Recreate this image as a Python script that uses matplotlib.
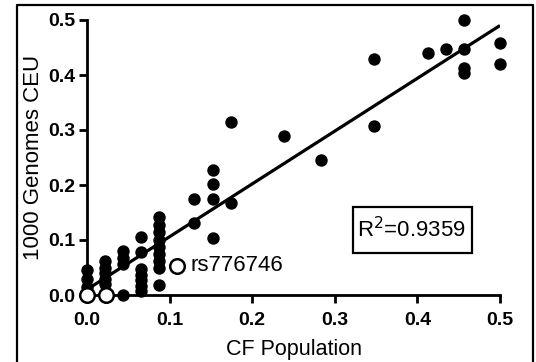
import matplotlib
matplotlib.use("Agg")
import matplotlib.pyplot as plt
from matplotlib.lines import Line2D
from matplotlib.patches import Rectangle
import numpy as np

plt.rcParams['font.family'] = ['Liberation Sans', 'DejaVu Sans']

# Filled points: CF Population (x) vs 1000 Genomes CEU (y)
cf_pop = [0.0, 0.0, 0.0,
          0.0217, 0.0217, 0.0217, 0.0217, 0.0217,
          0.0435, 0.0435, 0.0435, 0.0435,
          0.0652, 0.0652, 0.0652, 0.0652, 0.0652, 0.0652, 0.0652,
          0.087, 0.087, 0.087, 0.087, 0.087, 0.087, 0.087, 0.087, 0.087,
          0.130, 0.130,
          0.152, 0.152, 0.152, 0.152,
          0.174, 0.174,
          0.239, 0.283,
          0.348, 0.348,
          0.413, 0.435,
          0.457, 0.457, 0.457, 0.457,
          0.5, 0.5]
ceu = [0.045, 0.03, 0.015,
       0.062, 0.05, 0.04, 0.03, 0.02,
       0.08, 0.068, 0.056, 0.0,
       0.106, 0.078, 0.048, 0.037, 0.027, 0.017, 0.007,
       0.142, 0.128, 0.115, 0.1, 0.088, 0.075, 0.062, 0.05, 0.018,
       0.175, 0.131,
       0.228, 0.202, 0.175, 0.104,
       0.315, 0.167,
       0.289, 0.245,
       0.43, 0.307,
       0.44, 0.447,
       0.50, 0.447, 0.413, 0.404,
       0.458, 0.42]

# Open (outlier) points
open_x = [0.0, 0.0235, 0.109]
open_y = [0.0, 0.0, 0.053]
outlier_label = "rs776746"

# Regression line
fit_slope = 0.96
fit_intercept = 0.01
fit_x = [0.0, 0.5]
r2_text = "R$^2$=0.9359"

ticks = [0.0, 0.1, 0.2, 0.3, 0.4, 0.5]
tick_labels = ["0.0", "0.1", "0.2", "0.3", "0.4", "0.5"]

fig = plt.figure(figsize=(5.36, 3.62), dpi=100)
ax = fig.add_axes([87/536, 1-295/362, (500-87)/536, (295-20)/362])

fx = np.array(fit_x)
ax.plot(fx, fit_slope*fx + fit_intercept, color='black', lw=2.3, zorder=2,
        solid_capstyle='butt')
ax.scatter(cf_pop, ceu, s=80, color='black', zorder=3, clip_on=False, linewidths=0)
ax.scatter(open_x, open_y, s=110, facecolors='white', edgecolors='black',
           linewidths=1.8, zorder=4, clip_on=False)
ax.text(open_x[2] + 0.0165, open_y[2], outlier_label, fontsize=16,
        va='center', ha='left')

# R^2 box
ax.add_patch(Rectangle((0.644, 0.153), 0.288, 0.167, transform=ax.transAxes,
                       facecolor='white', edgecolor='black', lw=1.6, zorder=5))
ax.text(0.786, 0.236, r2_text, fontsize=16, ha='center', va='center',
        transform=ax.transAxes, zorder=6)

ax.set_xlim(0, 0.5)
ax.set_ylim(0, 0.5)
ax.set_xticks(ticks)
ax.set_xticklabels(tick_labels, fontweight='bold', fontsize=14)
ax.set_yticks(ticks)
ax.set_yticklabels(tick_labels, fontweight='bold', fontsize=14)
ax.tick_params(axis='both', direction='out', width=2, length=5.5, pad=3)
ax.tick_params(axis='x', pad=7)
for s in ['top', 'right']:
    ax.spines[s].set_visible(False)
for s in ['left', 'bottom']:
    ax.spines[s].set_linewidth(2)
ax.set_xlabel("CF Population", fontsize=15.5, labelpad=7)
ax.set_ylabel("1000 Genomes CEU", fontsize=16, labelpad=3)

# Outer frame (open at bottom)
l, r, t = 17/536, 533/536, 1-5/362
fig.add_artist(Line2D([l, l, r, r], [-0.05, t, t, -0.05], color='black',
                      lw=1.6, transform=fig.transFigure))

fig.savefig("out.png", dpi=100)
